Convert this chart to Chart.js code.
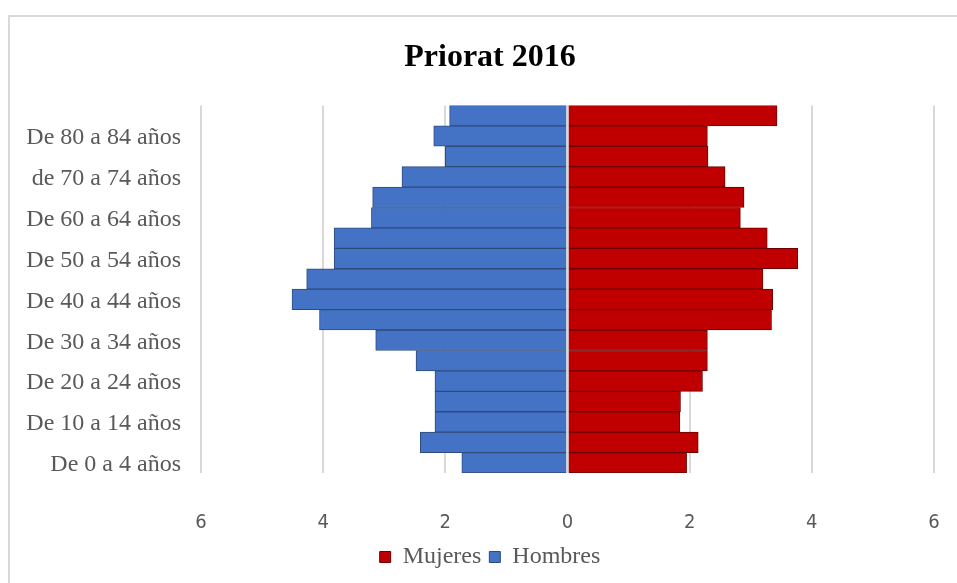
<!DOCTYPE html>
<html>
<head>
<meta charset="utf-8">
<title>Priorat 2016</title>
<script src="https://cdn.jsdelivr.net/npm/chart.js@4.4.1/dist/chart.umd.min.js"></script>
<style>
  html, body { margin: 0; padding: 0; background: #fff; }
  #wrap { position: relative; width: 957px; height: 583px; overflow: hidden; }
  #frame {
    position: absolute; left: 8px; top: 15px; width: 1000px; height: 620px;
    border: 2px solid #d9d9d9; pointer-events: none;
  }
  canvas { position: absolute; left: 0; top: 0; }
</style>
</head>
<body>
<div id="wrap">
  <canvas id="pyramid" width="957" height="583"></canvas>
  <div id="frame"></div>
</div>
<script>
// Age groups, bottom to top
const ageGroups = [
  'De 0 a 4 años', 'De 5 a 9 años', 'De 10 a 14 años', 'De 15 a 19 años',
  'De 20 a 24 años', 'De 25 a 29 años', 'De 30 a 34 años', 'De 35 a 39 años',
  'De 40 a 44 años', 'De 45 a 49 años', 'De 50 a 54 años', 'De 55 a 59 años',
  'De 60 a 64 años', 'De 65 a 69 años', 'de 70 a 74 años', 'De 75 a 79 años',
  'De 80 a 84 años', 'De 85 años y más'
];

// Percent of population per group
const mujeres = [1.95, 2.14, 1.84, 1.85, 2.21, 2.29, 2.29, 3.34, 3.36, 3.20, 3.77, 3.27, 2.83, 2.89, 2.58, 2.30, 2.29, 3.43];
const hombres = [1.73, 2.41, 2.17, 2.17, 2.17, 2.48, 3.14, 4.06, 4.51, 4.27, 3.82, 3.82, 3.21, 3.19, 2.71, 2.00, 2.19, 1.93];

const xTicks = [-6, -4, -2, 0, 2, 4, 6];

const serif = 'Liberation Serif';
const grey = '#595959';

// Light line over the bars at x = 0
const zeroLine = {
  id: 'zeroLine',
  afterDatasetsDraw(chart) {
    const x = chart.scales.x.getPixelForValue(0);
    const area = chart.chartArea;
    const c = chart.ctx;
    c.save();
    c.strokeStyle = '#d9d9d9';
    c.lineWidth = 2;
    c.beginPath();
    c.moveTo(x, area.top);
    c.lineTo(x, area.bottom);
    c.stroke();
    c.restore();
  }
};

// Title and legend sit a bit right of the canvas centre
const shiftBlocks = {
  id: 'shiftBlocks',
  afterLayout(chart) {
    [chart.titleBlock, chart.legend].forEach(b => {
      if (b) b.left += 46;
    });
  }
};

const ctx = document.getElementById('pyramid');
new Chart(ctx, {
  type: 'bar',
  data: {
    labels: ageGroups,
    datasets: [
      {
        label: 'Mujeres',
        data: mujeres,
        backgroundColor: '#c00000',
        borderColor: '#6b0000',
        borderWidth: 1
      },
      {
        label: 'Hombres',
        data: hombres.map(v => -v),
        backgroundColor: '#4472c4',
        borderColor: '#2f4b7c',
        borderWidth: 1
      }
    ]
  },
  options: {
    indexAxis: 'y',
    responsive: false,
    animation: false,
    barPercentage: 1,
    categoryPercentage: 1,
    layout: { padding: { left: 0, right: 23, top: 0, bottom: 4 } },
    plugins: {
      title: {
        display: true,
        text: 'Priorat 2016',
        color: '#000',
        font: { family: serif, size: 32, weight: 'bold' },
        padding: { top: 39, bottom: 28 }
      },
      legend: {
        position: 'bottom',
        labels: {
          color: grey,
          font: { family: serif, size: 24 },
          boxWidth: 11,
          boxHeight: 11,
          padding: 8
        }
      },
      tooltip: { enabled: false }
    },
    scales: {
      x: {
        stacked: true,
        min: -6,
        max: 6,
        afterBuildTicks(scale) {
          scale.ticks = xTicks.map(v => ({ value: v }));
        },
        afterFit(scale) { scale.height = 64; },
        border: { display: false },
        grid: {
          color: '#d9d9d9',
          lineWidth: 2,
          drawTicks: true,
          tickLength: 34,
          tickColor: 'rgba(0,0,0,0)'
        },
        ticks: {
          color: grey,
          padding: 4,
          font: { family: "'Liberation Sans Narrow', 'DejaVu Sans Condensed', sans-serif", size: 20 },
          callback: v => Math.abs(v)
        }
      },
      y: {
        stacked: true,
        reverse: true,
        afterFit(scale) { scale.width = 201; },
        border: { display: false },
        grid: { display: false, drawTicks: false },
        ticks: {
          autoSkip: false,
          color: grey,
          padding: 20,
          labelOffset: 2,
          font: { family: serif, size: 24 },
          callback: (v, i) => (i % 2 === 0 ? ageGroups[i] : '')
        }
      }
    }
  },
  plugins: [zeroLine, shiftBlocks]
});
</script>
</body>
</html>
